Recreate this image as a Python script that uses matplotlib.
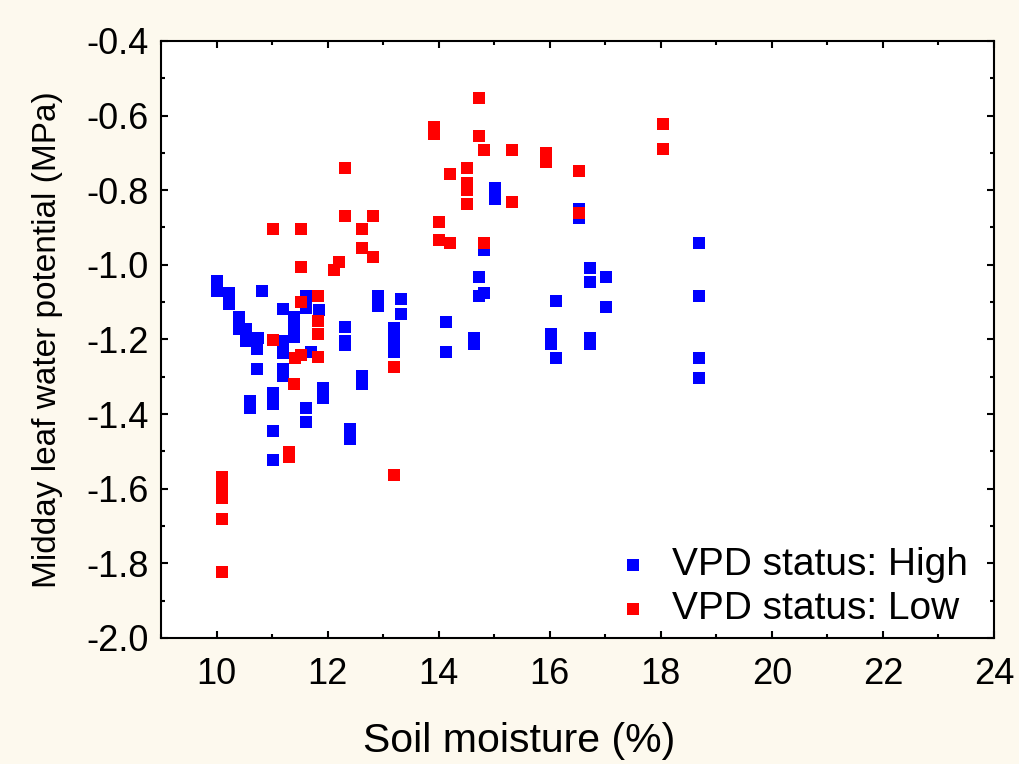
import matplotlib
matplotlib.use("Agg")
import matplotlib.pyplot as plt
from matplotlib.ticker import MultipleLocator, FormatStrFormatter

plt.rcParams['font.family'] = ['Liberation Sans', 'DejaVu Sans']

# Soil moisture (%) and midday leaf water potential (MPa), high VPD days
high_x = [10.01, 10.01, 10.22, 10.22, 10.81, 10.40, 10.40, 10.53, 10.53,
          10.60, 10.75, 10.72, 10.72, 10.60, 10.60, 11.02, 11.02, 11.02, 11.02,
          11.20, 11.40, 11.40, 11.40, 11.20, 11.20, 11.20, 11.20, 11.70,
          11.60, 11.60, 11.84, 11.60, 11.60, 11.91, 11.91,
          12.32, 12.32, 12.32, 12.62, 12.62, 12.41, 12.41, 12.91, 12.91,
          13.32, 13.32, 13.20, 13.20, 13.20, 14.13, 14.13,
          15.01, 15.01, 16.52, 16.52, 14.81, 14.72, 14.72, 14.81, 14.63, 14.63,
          16.73, 16.73, 17.02, 17.02, 16.11, 16.02, 16.02, 16.11, 16.73, 16.73,
          18.69, 18.69, 18.69, 18.69]
high_y = [-1.043, -1.070, -1.075, -1.105, -1.070, -1.141, -1.172, -1.173, -1.203,
          -1.195, -1.195, -1.225, -1.278, -1.365, -1.383, -1.343, -1.373, -1.445, -1.523,
          -1.119, -1.141, -1.168, -1.194, -1.204, -1.237, -1.278, -1.297, -1.235,
          -1.084, -1.117, -1.122, -1.383, -1.422, -1.331, -1.356,
          -1.168, -1.203, -1.215, -1.297, -1.320, -1.440, -1.467, -1.084, -1.110,
          -1.093, -1.132, -1.169, -1.202, -1.235, -1.154, -1.234,
          -0.793, -0.825, -0.850, -0.874, -0.960, -1.032, -1.084, -1.075, -1.197, -1.211,
          -1.009, -1.045, -1.032, -1.114, -1.097, -1.186, -1.212, -1.251, -1.197, -1.211,
          -0.942, -1.084, -1.251, -1.304]

# low VPD days
low_x = [13.92, 13.92, 12.32, 14.21, 12.32, 12.82, 11.02, 11.52, 12.62,
         14.01, 14.01, 14.21, 12.62, 12.82, 11.52, 12.21, 12.11,
         11.31, 11.31, 11.02, 11.41, 11.52, 11.40, 11.52,
         11.82, 11.82, 11.82, 11.82, 13.20, 13.20,
         10.10, 10.10, 10.10, 10.10, 10.10, 10.10,
         14.72, 14.72, 14.81, 15.31, 15.93, 15.93, 18.03, 18.03, 16.52,
         14.51, 14.51, 14.51, 14.51, 15.31, 16.52, 14.81]
low_y = [-0.631, -0.649, -0.740, -0.758, -0.868, -0.868, -0.904, -0.904, -0.904,
         -0.886, -0.934, -0.942, -0.956, -0.978, -1.005, -0.993, -1.014,
         -1.501, -1.514, -1.202, -1.251, -1.242, -1.320, -1.101,
         -1.083, -1.150, -1.186, -1.246, -1.273, -1.564,
         -1.568, -1.585, -1.605, -1.625, -1.682, -1.823,
         -0.552, -0.654, -0.692, -0.692, -0.701, -0.724, -0.623, -0.689, -0.750,
         -0.740, -0.780, -0.800, -0.837, -0.833, -0.862, -0.942]

fig = plt.figure(figsize=(10.2, 7.64), dpi=100, facecolor='#fdf9ee')
ax = fig.add_axes([0.158, 0.165, 0.8165, 0.7815])
ax.set_facecolor('white')

ax.scatter(high_x, high_y, marker='s', s=78, color='#0000ff', linewidths=0,
           label='VPD status: High', zorder=3)
ax.scatter(low_x, low_y, marker='s', s=78, color='#ff0000', linewidths=0,
           label='VPD status: Low', zorder=4)

ax.set_xlim(9, 24)
ax.set_ylim(-2.0, -0.4)
ax.xaxis.set_major_locator(MultipleLocator(2))
ax.xaxis.set_minor_locator(MultipleLocator(1))
ax.yaxis.set_major_locator(MultipleLocator(0.2))
ax.yaxis.set_minor_locator(MultipleLocator(0.1))
ax.yaxis.set_major_formatter(FormatStrFormatter('%.1f'))
ax.set_xticks([10, 12, 14, 16, 18, 20, 22, 24])

ax.tick_params(which='both', direction='in', top=True, right=True, width=1.5,
               colors='black', labelsize=26)
ax.tick_params(which='major', length=5)
ax.tick_params(which='minor', length=3)
ax.tick_params(axis='x', pad=14)
ax.tick_params(axis='y', pad=9)
for sp in ax.spines.values():
    sp.set_linewidth(1.5)

ax.set_xlabel('Soil moisture (%)', fontsize=29.5)
ax.xaxis.set_label_coords(0.43, -0.14)
ax.set_ylabel('Midday leaf water potential (MPa)', fontsize=24)
ax.yaxis.set_label_coords(-0.118, 0.5)

ax.legend(loc='lower right', bbox_to_anchor=(0.969, 0.018), frameon=False,
          fontsize=28, handlelength=0.6, handletextpad=0.7, labelspacing=0.2,
          borderpad=0, borderaxespad=0)

fig.savefig('out.png', dpi=100, facecolor=fig.get_facecolor())
